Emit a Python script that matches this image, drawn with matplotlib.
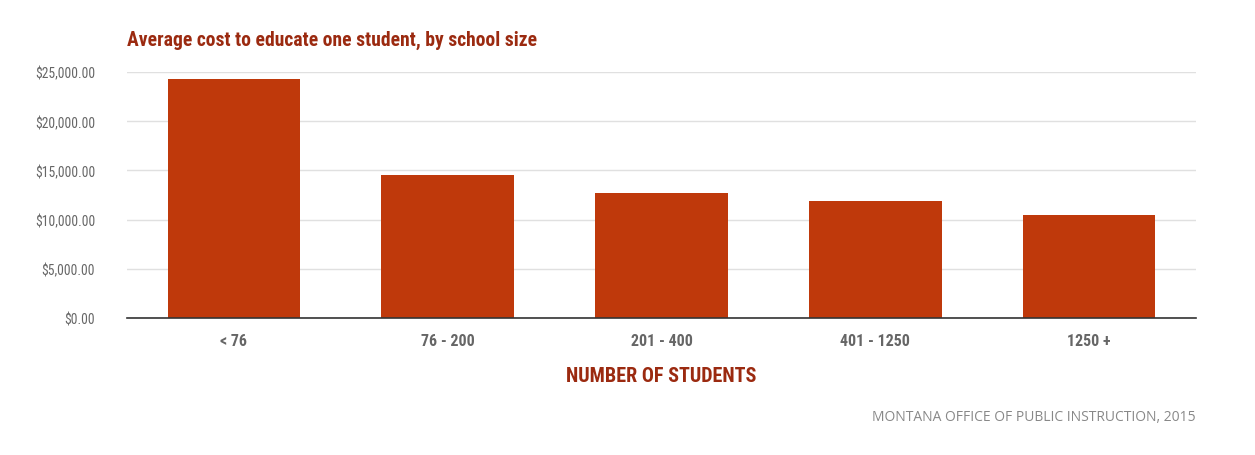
import matplotlib
matplotlib.use("Agg")
import matplotlib.pyplot as plt
from matplotlib.ticker import FuncFormatter
from matplotlib import font_manager
from matplotlib.font_manager import FontProperties

categories = ["< 76", "76 - 200", "201 - 400", "401 - 1250", "1250 +"]
costs = [24300, 14550, 12700, 11900, 10480]
yticks = [0, 5000, 10000, 15000, 20000, 25000]

# find condensed / narrow fonts
cands = []
for f in font_manager.fontManager.ttflist:
    key = (f.name + " " + f.fname).lower()
    if ("condensed" in key or "narrow" in key) and "oblique" not in key and "italic" not in key:
        cands.append(f)

def pick(bold):
    for pref in ["roboto", "liberation", "open", "noto", "dejavu", ""]:
        for f in cands:
            key = (f.name + " " + f.fname).lower()
            if pref in key:
                fn = f.fname.lower()
                isbold = ("bold" in fn) or (f.weight in (700, "bold"))
                other = any(w in fn for w in ["semi", "extra", "light", "black", "medium", "thin"])
                if isbold == bold and not other:
                    return FontProperties(fname=f.fname)
    return None

reg = pick(False)
bld = pick(True)
if reg is None:
    reg = FontProperties(family="DejaVu Sans", stretch="condensed")
if bld is None:
    bld = FontProperties(family="DejaVu Sans", stretch="condensed", weight="bold")

def fp(base, size):
    p = base.copy()
    p.set_size(size)
    return p

W, H = 1255, 456
fig = plt.figure(figsize=(W / 100, H / 100), dpi=100)
ax = fig.add_axes([127 / W, 1 - 319 / H, (1196 - 127) / W, (319 - 73) / H])

bar_color = "#bf390b"
ax.bar(range(len(categories)), costs, width=0.62, color=bar_color, zorder=3)
ax.set_xlim(-0.5, len(categories) - 0.5)
ax.set_ylim(0, 25000)
ax.set_yticks(yticks)
ax.yaxis.set_major_formatter(FuncFormatter(lambda v, p: f"${v:,.2f}"))
ax.grid(axis="y", color="#e0e0e0", linewidth=1, zorder=0)
ax.set_axisbelow(True)
for s in ["top", "right", "left"]:
    ax.spines[s].set_visible(False)
ax.spines["bottom"].set_color("#333333")
ax.spines["bottom"].set_linewidth(1.2)
ax.spines["bottom"].set_zorder(4)
ax.tick_params(axis="both", length=0)
ax.tick_params(axis="y", pad=23)
ax.tick_params(axis="x", pad=11)
ax.set_xticks(range(len(categories)))
ax.set_xticklabels(categories, fontproperties=fp(bld, 11.5), color="#666666")
for lbl in ax.get_yticklabels():
    lbl.set_fontproperties(fp(reg, 9.8))
    lbl.set_color("#666666")

ax.set_xlabel("NUMBER OF STUDENTS", fontproperties=fp(bld, 14.5), color="#9b2a10", labelpad=13)

fig.text(127 / W, 1 - 40 / H, "Average cost to educate one student, by school size",
         fontproperties=fp(bld, 14.1), color="#9b2a10", ha="left", va="center")
fig.text(1196 / W, 1 - 418 / H, "MONTANA OFFICE OF PUBLIC INSTRUCTION, 2015",
         fontsize=10, color="#888888", family=["Open Sans", "DejaVu Sans"], ha="right", va="center")

fig.savefig("out.png", dpi=100)
